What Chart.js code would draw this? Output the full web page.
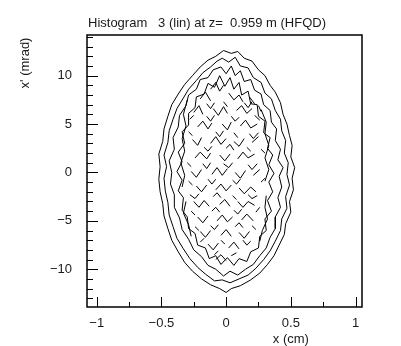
<!DOCTYPE html>
<html>
<head>
<meta charset="utf-8">
<script src="https://cdn.jsdelivr.net/npm/chart.js@4"></script>
<style>
  html, body { margin: 0; padding: 0; background: #fff; }
  #wrap { width: 401px; height: 346px; }
</style>
</head>
<body>
<div id="wrap"><canvas id="histChart" width="401" height="346"></canvas></div>
<script>
// axis ticks
const X_TICKS = [-1, -0.5, 0, 0.5, 1];
const X_LABELS = ['\u22121', '\u22120.5', '0', '0.5', '1'];
const X_MINOR = [-0.75, -0.25, 0.25, 0.75];
const Y_TICKS = [-10, -5, 0, 5, 10];
const Y_LABELS = ['\u221210', '\u22125', '0', '5', '10'];
const Y_MINOR = [-13, -12, -11, -9, -8, -7, -6, -4, -3, -2, -1, 1, 2, 3, 4, 6, 7, 8, 9, 11, 12, 13, 14];

// contour levels, outer to inner, [x (cm), x' (mrad)]
const contour1 = [[-0.02,12.6],[0.04,12.3],[0.09,12.5],[0.14,11.8],[0.20,11.5],[0.25,10.6],[0.30,10.0],[0.34,9.0],[0.38,8.3],[0.42,7.2],[0.44,6.0],[0.47,5.0],[0.49,3.8],[0.51,2.8],[0.50,1.6],[0.53,0.5],[0.51,-0.6],[0.52,-1.8],[0.49,-3.0],[0.50,-4.1],[0.46,-5.3],[0.45,-6.4],[0.41,-7.5],[0.37,-8.6],[0.32,-9.5],[0.26,-10.4],[0.19,-11.1],[0.11,-11.7],[0.04,-12.0],[0.00,-12.4],[-0.05,-12.0],[-0.12,-11.6],[-0.19,-11.0],[-0.26,-10.2],[-0.32,-9.3],[-0.37,-8.2],[-0.42,-7.0],[-0.45,-5.8],[-0.48,-4.5],[-0.49,-3.2],[-0.51,-2.0],[-0.52,-0.7],[-0.51,0.6],[-0.52,1.9],[-0.49,3.2],[-0.48,4.5],[-0.45,5.8],[-0.42,7.0],[-0.37,8.1],[-0.32,9.1],[-0.26,10.0],[-0.20,10.9],[-0.14,11.6],[-0.08,12.0],[-0.02,12.6]];
const contour2 = [[-0.03,11.8],[0.02,11.4],[0.07,11.9],[0.11,11.0],[0.17,10.8],[0.21,9.8],[0.27,9.3],[0.30,8.2],[0.35,7.6],[0.38,6.4],[0.42,5.5],[0.43,4.3],[0.46,3.3],[0.45,2.0],[0.48,1.0],[0.47,-0.2],[0.49,-1.3],[0.46,-2.5],[0.47,-3.7],[0.43,-4.8],[0.42,-6.0],[0.38,-7.1],[0.34,-8.1],[0.29,-9.0],[0.23,-9.9],[0.17,-10.6],[0.10,-11.0],[0.03,-11.4],[-0.03,-11.1],[-0.09,-11.2],[-0.16,-10.5],[-0.22,-9.8],[-0.28,-8.9],[-0.33,-7.9],[-0.38,-6.8],[-0.41,-5.6],[-0.44,-4.4],[-0.45,-3.1],[-0.47,-1.9],[-0.48,-0.6],[-0.46,0.6],[-0.48,1.8],[-0.45,3.1],[-0.44,4.3],[-0.41,5.5],[-0.38,6.6],[-0.33,7.7],[-0.29,8.6],[-0.23,9.5],[-0.18,10.3],[-0.12,10.9],[-0.07,11.5],[-0.03,11.8]];
const contour3 = [[-0.04,10.9],[0.00,10.2],[0.04,11.0],[0.07,10.0],[0.11,10.5],[0.14,9.4],[0.19,9.6],[0.22,8.5],[0.27,8.1],[0.29,7.0],[0.34,6.4],[0.35,5.2],[0.39,4.5],[0.38,3.3],[0.42,2.4],[0.40,1.3],[0.44,0.5],[0.41,-0.4],[0.43,-1.5],[0.40,-2.6],[0.42,-3.6],[0.38,-4.6],[0.38,-5.8],[0.34,-6.7],[0.31,-7.8],[0.26,-8.6],[0.21,-9.5],[0.15,-10.0],[0.09,-10.6],[0.03,-10.2],[-0.02,-10.7],[-0.08,-10.0],[-0.14,-9.6],[-0.19,-8.7],[-0.25,-8.0],[-0.29,-6.9],[-0.34,-5.9],[-0.36,-4.7],[-0.40,-3.6],[-0.40,-2.3],[-0.43,-1.2],[-0.42,0.0],[-0.44,1.2],[-0.40,2.4],[-0.41,3.6],[-0.37,4.7],[-0.36,5.9],[-0.31,6.9],[-0.29,8.0],[-0.23,8.6],[-0.20,9.6],[-0.14,9.8],[-0.10,10.6],[-0.04,10.9]];
const contour4 = [[-0.05,10.0],[-0.01,8.9],[0.03,9.8],[0.06,8.6],[0.10,9.3],[0.12,8.0],[0.17,8.4],[0.19,7.1],[0.24,7.0],[0.25,5.8],[0.30,5.3],[0.29,4.1],[0.34,3.6],[0.32,2.5],[0.36,1.8],[0.33,0.8],[0.37,-0.1],[0.33,-1.0],[0.36,-2.0],[0.32,-2.9],[0.35,-4.0],[0.30,-4.8],[0.31,-6.0],[0.26,-6.6],[0.25,-7.8],[0.19,-8.2],[0.16,-9.2],[0.10,-8.9],[0.06,-9.6],[0.01,-8.8],[-0.04,-9.5],[-0.08,-8.6],[-0.13,-8.9],[-0.16,-7.8],[-0.22,-7.5],[-0.24,-6.3],[-0.29,-5.8],[-0.30,-4.6],[-0.34,-3.9],[-0.33,-2.6],[-0.37,-1.9],[-0.34,-0.8],[-0.38,0.1],[-0.34,1.1],[-0.37,2.1],[-0.32,3.0],[-0.34,4.2],[-0.29,4.9],[-0.29,6.1],[-0.24,6.7],[-0.23,7.8],[-0.17,8.1],[-0.14,9.2],[-0.09,8.8],[-0.05,10.0]];

// fifth level, only broken pieces of it
const contour5Pieces = [
  [[-0.30,7.5],[-0.33,6.0],[-0.31,4.8],[-0.34,3.5],[-0.32,2.2],[-0.35,1.0],[-0.32,-0.3],[-0.34,-1.5]],
  [[-0.31,-3.0],[-0.33,-4.2],[-0.29,-5.4],[-0.27,-6.6]],
  [[0.27,6.5],[0.31,5.2],[0.30,4.0],[0.33,2.8],[0.30,1.5],[0.33,0.3],[0.30,-0.9]],
  [[0.31,-2.4],[0.30,-3.6],[0.32,-4.8],[0.28,-6.0],[0.26,-7.1]],
  [[-0.12,8.6],[-0.08,9.3],[-0.05,8.4],[-0.02,9.0]],
  [[-0.08,-9.0],[-0.04,-8.5],[0.00,-9.1]]
];

// broken inner contour pieces
const innerPieces = [
  [[-0.20,7.6],[-0.16,8.3],[-0.12,7.4]], [[0.02,8.2],[0.06,7.5],[0.10,8.0],[0.13,7.3]], [[0.18,7.8],[0.22,7.1]],
  [[-0.25,6.2],[-0.21,6.9],[-0.18,6.0]], [[-0.10,6.6],[-0.06,5.9],[-0.02,6.8],[0.01,6.1]], [[0.08,6.4],[0.12,6.9],[0.16,6.1],[0.20,6.6]],
  [[-0.22,4.7],[-0.18,5.3],[-0.14,4.5],[-0.11,5.1]], [[-0.03,5.0],[0.01,4.4],[0.04,5.2]], [[0.11,4.8],[0.15,5.4],[0.19,4.6],[0.24,5.0]],
  [[-0.26,3.4],[-0.22,2.8],[-0.19,3.6]], [[-0.12,3.0],[-0.08,3.7],[-0.04,2.9],[0.00,3.5]], [[0.06,3.2],[0.10,2.7],[0.14,3.5]], [[0.20,3.1],[0.25,3.7]],
  [[-0.24,1.5],[-0.20,2.1],[-0.15,1.4],[-0.12,2.0]], [[-0.05,1.8],[-0.01,1.2],[0.03,1.9]], [[0.09,1.4],[0.13,2.1],[0.17,1.5],[0.22,1.9]],
  [[-0.27,0.1],[-0.23,-0.5],[-0.19,0.3]], [[-0.11,-0.2],[-0.07,0.5],[-0.03,-0.3],[0.01,0.4]], [[0.07,0.0],[0.11,-0.6],[0.15,0.2]], [[0.21,-0.3],[0.26,0.3]],
  [[-0.23,-1.4],[-0.19,-2.0],[-0.15,-1.3]], [[-0.08,-1.8],[-0.04,-1.2],[0.00,-1.9],[0.04,-1.3]], [[0.10,-1.6],[0.14,-2.2],[0.19,-1.5],[0.23,-2.0]],
  [[-0.25,-3.0],[-0.21,-3.6],[-0.17,-2.9],[-0.13,-3.5]], [[-0.05,-3.3],[-0.01,-2.8],[0.03,-3.5]], [[0.09,-3.0],[0.13,-3.6],[0.17,-3.0],[0.22,-3.4]],
  [[-0.22,-4.6],[-0.18,-5.2],[-0.14,-4.5]], [[-0.07,-5.0],[-0.03,-4.4],[0.01,-5.1],[0.05,-4.6]], [[0.12,-4.9],[0.16,-4.3],[0.21,-5.0]],
  [[-0.20,-6.1],[-0.16,-6.7],[-0.12,-6.0]], [[-0.04,-6.5],[0.00,-5.9],[0.04,-6.6]], [[0.10,-6.2],[0.14,-6.8],[0.18,-6.1]],
  [[-0.14,-7.4],[-0.10,-8.0],[-0.06,-7.3]], [[0.02,-7.8],[0.06,-7.2],[0.10,-7.9]],
  // second, finer layer
  [[-0.15,7.1],[-0.12,6.6],[-0.09,7.2]], [[-0.02,7.3],[0.01,6.8]], [[0.14,7.2],[0.17,6.7],[0.20,7.3]], [[0.25,6.9],[0.27,6.3]],
  [[-0.28,5.5],[-0.25,5.9]], [[-0.15,5.8],[-0.12,5.3],[-0.09,5.9]], [[0.04,5.8],[0.07,5.3],[0.10,5.7]], [[0.22,5.9],[0.26,5.4]],
  [[-0.29,4.2],[-0.26,3.8]], [[-0.08,4.2],[-0.05,3.7],[-0.02,4.3]], [[0.06,4.1],[0.09,3.6]], [[0.18,4.0],[0.21,3.5],[0.25,4.1]],
  [[-0.17,2.6],[-0.14,2.2],[-0.11,2.7]], [[0.00,2.5],[0.03,2.9],[0.06,2.3]], [[0.16,2.6],[0.19,2.2]], [[0.27,2.4],[0.30,2.0]],
  [[-0.30,1.0],[-0.27,0.6]], [[-0.18,0.9],[-0.15,0.4],[-0.12,1.0]], [[-0.02,0.9],[0.02,0.5],[0.05,1.0]], [[0.17,0.8],[0.20,0.3],[0.24,0.9]],
  [[-0.29,-0.9],[-0.26,-1.3]], [[-0.14,-0.7],[-0.11,-1.2],[-0.08,-0.7]], [[0.05,-0.8],[0.08,-1.2],[0.11,-0.7]], [[0.27,-1.0],[0.30,-0.6]],
  [[-0.28,-2.3],[-0.24,-2.7],[-0.21,-2.2]], [[-0.10,-2.5],[-0.07,-2.1],[-0.04,-2.6]], [[0.05,-2.4],[0.08,-2.8]], [[0.17,-2.3],[0.20,-2.7],[0.24,-2.4]],
  [[-0.27,-4.0],[-0.24,-4.4]], [[-0.11,-4.0],[-0.08,-3.6],[-0.05,-4.1]], [[0.06,-3.9],[0.09,-4.3],[0.12,-3.8]], [[0.23,-4.1],[0.26,-3.6]],
  [[-0.24,-5.6],[-0.21,-6.0]], [[-0.12,-5.5],[-0.09,-5.9],[-0.06,-5.4]], [[0.07,-5.6],[0.10,-5.2],[0.13,-5.7]], [[0.20,-5.5],[0.23,-5.9]],
  [[-0.20,-7.2],[-0.17,-6.8]], [[-0.04,-7.0],[-0.01,-7.4]], [[0.13,-7.0],[0.16,-7.5],[0.19,-7.1]],
  [[-0.09,-8.5],[-0.06,-8.1]], [[0.04,-8.6],[0.08,-8.3]]
];

const FONT = '"Liberation Sans", Arial, sans-serif';
const INK = '#1a1a1a';

function toPoints(arr) {
    return arr.map(p => ({ x: p[0], y: p[1] }));
}

const lineSets = [contour1, contour2, contour3, contour4].concat(contour5Pieces, innerPieces).map(c => ({
    data: toPoints(c),
    showLine: true,
    pointRadius: 0,
    borderColor: '#000',
    borderWidth: 1,
    tension: 0
}));

// frame, inward tick marks and the texts
const framePlugin = {
    id: 'frame',
    afterDraw(chart) {
        const ctx = chart.ctx;
        const a = chart.chartArea;
        const xs = chart.scales.x;
        const ys = chart.scales.y;
        ctx.save();
        ctx.strokeStyle = '#000';
        ctx.lineWidth = 1.5;
        ctx.strokeRect(a.left, a.top, a.right - a.left, a.bottom - a.top);

        ctx.lineWidth = 1;
        ctx.beginPath();
        X_TICKS.forEach(v => {
            const px = Math.round(xs.getPixelForValue(v)) + 0.5;
            ctx.moveTo(px, a.bottom); ctx.lineTo(px, a.bottom - 10);
        });
        X_MINOR.forEach(v => {
            const px = Math.round(xs.getPixelForValue(v)) + 0.5;
            ctx.moveTo(px, a.bottom); ctx.lineTo(px, a.bottom - 5);
        });
        Y_TICKS.forEach(v => {
            const py = Math.round(ys.getPixelForValue(v)) + 0.5;
            ctx.moveTo(a.left, py); ctx.lineTo(a.left + 11, py);
        });
        Y_MINOR.forEach(v => {
            const py = Math.round(ys.getPixelForValue(v)) + 0.5;
            ctx.moveTo(a.left, py); ctx.lineTo(a.left + 6, py);
        });
        ctx.stroke();

        ctx.fillStyle = INK;
        ctx.font = '13px ' + FONT;
        ctx.textAlign = 'left';
        ctx.textBaseline = 'alphabetic';
        ctx.fillText('Histogram   3 (lin) at z=  0.959 m (HFQD)', a.left + 1, 27);

        ctx.textAlign = 'center';
        ctx.fillText('x (cm)', xs.getPixelForValue(0.5), 343);

        ctx.translate(29, 63);
        ctx.rotate(-Math.PI / 2);
        ctx.fillText("x' (mrad)", 0, 0);
        ctx.restore();
    }
};

document.addEventListener('DOMContentLoaded', (event) => {
    const ctx = document.getElementById('histChart').getContext('2d');

    const histChart = new Chart(ctx, {
        type: 'scatter',
        data: { datasets: lineSets },
        options: {
            responsive: false,
            animation: false,
            layout: { padding: { top: 35, right: 39, left: 0, bottom: 0 } },
            plugins: {
                legend: { display: false },
                tooltip: { enabled: false },
                title: { display: false }
            },
            scales: {
                x: {
                    type: 'linear',
                    min: -1.075,
                    max: 1.05,
                    afterBuildTicks: (scale) => { scale.ticks = X_TICKS.map(v => ({ value: v })); },
                    afterFit: (scale) => { scale.height = 39; },
                    grid: { display: false, drawTicks: false },
                    border: { display: false },
                    ticks: {
                        padding: 9,
                        maxRotation: 0,
                        color: INK,
                        font: { family: FONT, size: 13 },
                        callback: (v) => X_LABELS[X_TICKS.indexOf(v)]
                    }
                },
                y: {
                    type: 'linear',
                    min: -13.9,
                    max: 14.2,
                    afterBuildTicks: (scale) => { scale.ticks = Y_TICKS.map(v => ({ value: v })); },
                    afterFit: (scale) => { scale.width = 87; },
                    grid: { display: false, drawTicks: false },
                    border: { display: false },
                    ticks: {
                        padding: 15,
                        color: INK,
                        font: { family: FONT, size: 13 },
                        callback: (v) => Y_LABELS[Y_TICKS.indexOf(v)]
                    }
                }
            }
        },
        plugins: [framePlugin]
    });
});
</script>
</body>
</html>
